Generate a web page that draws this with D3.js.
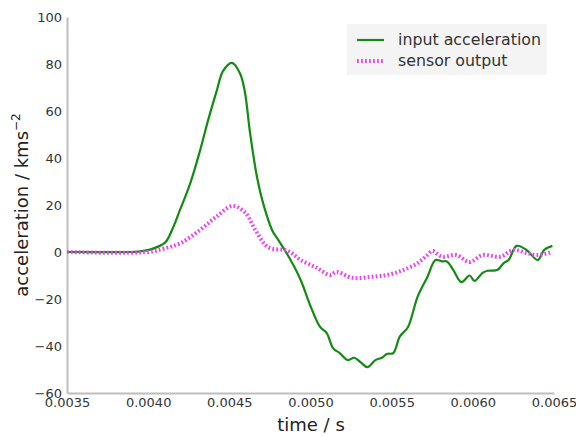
<!DOCTYPE html>
<html>
<head>
<meta charset="utf-8">
<script src="https://cdn.jsdelivr.net/npm/d3@7"></script>
<style>
  body { margin: 0; background: #fff; }
  text { font-family: "DejaVu Sans", sans-serif; }
</style>
</head>
<body>
<div id="chart"></div>
<script>
// Series
const inputTime = [0.0035, 0.00389, 0.00395, 0.00401, 0.004104, 0.004147, 0.004196, 0.004258, 0.004319, 0.004369,
    0.004424, 0.004461, 0.004516, 0.004566, 0.004596, 0.004627, 0.004670, 0.004707, 0.004763, 0.004812,
    0.004874,
    0.00494, 0.00500, 0.00506, 0.00510, 0.00514, 0.00518, 0.00523, 0.00527, 0.00531, 0.00535,
    0.00540, 0.00544, 0.00547, 0.00551, 0.00555, 0.00560, 0.00566, 0.00572, 0.00577, 0.00581,
    0.00584, 0.00588, 0.00593, 0.00598, 0.00601, 0.00606, 0.00609, 0.00615, 0.00619, 0.00622,
    0.00627, 0.00633, 0.00640, 0.00644, 0.00649];
const inputAccel = [0, 0, 0.3, 1, 4, 9.4, 17.9, 29, 43, 56,
    69, 77, 80.5, 76, 68, 51, 32, 21, 9.4, 4,
    -3,
    -12, -23, -32, -34.5, -41, -43, -46, -45, -47, -49,
    -46, -45, -43.4, -43, -36, -32, -19, -10.6, -3.4, -4,
    -4, -7.7, -12.8, -10, -12.3, -8.9, -8, -7.7, -4.7, -3.4,
    2.6, 0.9, -3.4, 0.9, 2.6];

const sensorTime = [0.0035, 0.0040, 0.00410, 0.00420, 0.00432, 0.00442, 0.00452, 0.00460, 0.00466, 0.00474,
    0.00486, 0.00494, 0.00504, 0.00512, 0.00516, 0.00526, 0.00537, 0.00547, 0.00557, 0.00566,
    0.00572, 0.00575, 0.00581, 0.00590, 0.00598, 0.00606, 0.00617, 0.00625, 0.00633, 0.00640, 0.00649];
const sensorAccel = [0, 0, 1.5, 3.8, 9.4, 15, 19.6, 16.6, 9.4, 2,
    0.5, -3.4, -6.8, -9.8, -8.5, -11, -10.6, -9.8, -7.7, -4.7,
    -1.3, 0.4, -2, -1.3, -4.3, -1.3, -2, 0.9, -0.4, -1.3, 0];

const xTicks = [0.0035, 0.0040, 0.0045, 0.0050, 0.0055, 0.0060, 0.0065];
const yTicks = [-60, -40, -20, 0, 20, 40, 60, 80, 100];
const legendLabels = ["input acceleration", "sensor output"];

const width = 576, height = 437;
const margin = { left: 67, right: 22, top: 17, bottom: 44 };

const svg = d3.select("#chart").append("svg")
    .attr("width", width)
    .attr("height", height);

const x = d3.scaleLinear().domain([0.0035, 0.0065]).range([margin.left, width - margin.right]);
const y = d3.scaleLinear().domain([-60, 100]).range([height - margin.bottom, margin.top]);

const fmtY = d => (d < 0 ? "\u2212" + Math.abs(d) : String(d));

// Axes (no tick marks, light spines)
const xAxis = svg.append("g")
    .attr("transform", `translate(0,${height - margin.bottom})`)
    .call(d3.axisBottom(x).tickValues(xTicks).tickFormat(d3.format(".4f")).tickSize(0).tickPadding(5));
const yAxis = svg.append("g")
    .attr("transform", `translate(${margin.left},0)`)
    .call(d3.axisLeft(y).tickValues(yTicks).tickFormat(fmtY).tickSize(0).tickPadding(5));

[xAxis, yAxis].forEach(a => {
    a.select(".domain").attr("stroke", "#bdbdbd").attr("stroke-width", 2);
    a.selectAll(".tick text").attr("fill", "#333").style("font-size", "13px");
});

// Axis labels
svg.append("text")
    .attr("x", 311)
    .attr("y", 431)
    .attr("text-anchor", "middle")
    .attr("fill", "#222")
    .style("font-size", "18px")
    .text("time / s");

const yLabel = svg.append("text")
    .attr("transform", `translate(28,${y(20)}) rotate(-90)`)
    .attr("text-anchor", "middle")
    .attr("fill", "#222")
    .style("font-size", "18px");
yLabel.append("tspan").text("acceleration / kms");
yLabel.append("tspan").attr("dy", -8).style("font-size", "12px").text("\u22122");

// Lines
const line = d3.line()
    .x(d => x(d[0]))
    .y(d => y(d[1]))
    .curve(d3.curveCatmullRom.alpha(0.5));

svg.append("path")
    .datum(inputTime.map((t, i) => [t, inputAccel[i]]))
    .attr("d", line)
    .attr("fill", "none")
    .attr("stroke", "#138a13")
    .attr("stroke-width", 2.2);

svg.append("path")
    .datum(sensorTime.map((t, i) => [t, sensorAccel[i]]))
    .attr("d", line)
    .attr("fill", "none")
    .attr("stroke", "#ee44ee")
    .attr("stroke-width", 4)
    .attr("stroke-dasharray", "1.8,2.2");

// Legend
const legend = svg.append("g").attr("transform", "translate(347,24)");
legend.append("rect")
    .attr("width", 200).attr("height", 51)
    .attr("fill", "#f4f4f4");
legendLabels.forEach((label, i) => {
    const ly = 16 + i * 21;
    legend.append("line")
        .attr("x1", 10).attr("x2", 37).attr("y1", ly).attr("y2", ly)
        .attr("stroke", i === 0 ? "#138a13" : "#ee44ee")
        .attr("stroke-width", i === 0 ? 2.2 : 4)
        .attr("stroke-dasharray", i === 0 ? null : "1.8,2.2");
    legend.append("text")
        .attr("x", 51).attr("y", ly + 5)
        .attr("fill", "#333")
        .style("font-size", "15.8px")
        .text(label);
});
</script>
</body>
</html>
